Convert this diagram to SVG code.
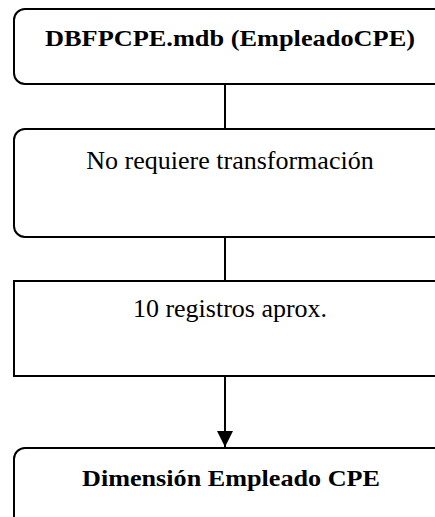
<svg xmlns="http://www.w3.org/2000/svg" width="435" height="517" viewBox="0 0 435 517">
<style>
.box{fill:#fff;stroke:#000;stroke-width:2}
.t{font-family:"Liberation Serif","Times New Roman",serif;font-size:26px;fill:#000;text-anchor:middle}
.b{font-weight:bold;font-size:24px}
.c{stroke:#000;stroke-width:2;fill:none}
</style>
<defs>
<marker id="ah" markerWidth="8" markerHeight="8" refX="8" refY="4" orient="auto" markerUnits="strokeWidth">
<path d="M0,0 L8,4 L0,8 Z" fill="#000"/>
</marker>
</defs>
<rect width="435" height="517" fill="#fff"/>
<g id="connectors">
<line class="c" x1="225" y1="84" x2="225" y2="129"/>
<line class="c" x1="225" y1="237" x2="225" y2="281"/>
<line class="c" x1="225" y1="376" x2="225" y2="447" marker-end="url(#ah)"/>
</g>
<g id="n1">
<rect class="box" x="14" y="9" width="432" height="75" rx="11"/>
<text class="t b" x="230" y="46" textLength="370" lengthAdjust="spacingAndGlyphs">DBFPCPE.mdb (EmpleadoCPE)</text>
</g>
<g id="n2">
<rect class="box" x="14" y="129" width="432" height="108" rx="11"/>
<text class="t" x="230" y="169">No requiere transformación</text>
</g>
<g id="n3">
<rect class="box" x="14" y="281" width="432" height="95"/>
<text class="t" x="230" y="317">10 registros aprox.</text>
</g>
<g id="n4">
<rect class="box" x="14" y="448" width="432" height="90" rx="11"/>
<text class="t b" x="231" y="486" textLength="298" lengthAdjust="spacingAndGlyphs">Dimensión Empleado CPE</text>
</g>
</svg>
